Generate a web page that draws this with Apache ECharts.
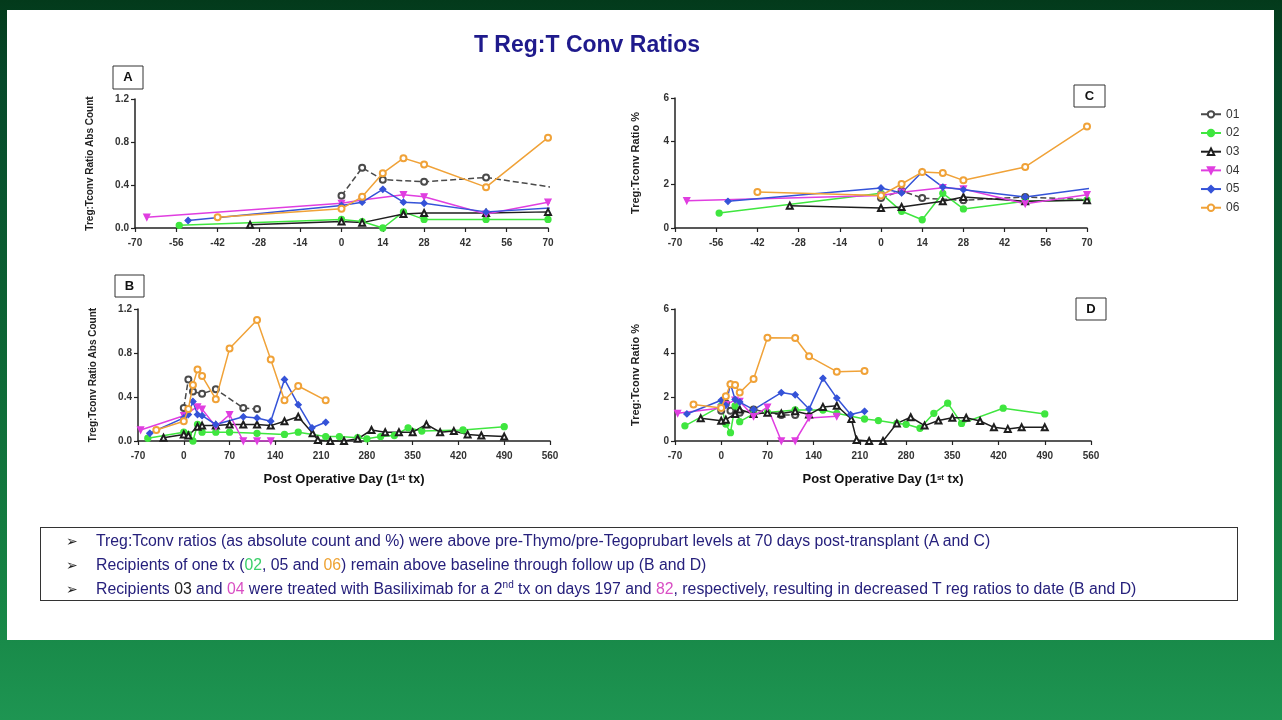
<html>
<head>
  <script src="https://cdn.jsdelivr.net/npm/echarts@6/dist/echarts.min.js"></script>
  <title>T Reg:T Conv Ratios</title>
  <style>
    body { margin: 0; width: 1282px; height: 720px; overflow: hidden; font-family: 'Liberation Sans', Arial, sans-serif;
      background: linear-gradient(to bottom, #033a1b 0px, #06492a 80px, #0c6434 330px, #168545 600px, #1e9552 720px); }
    #sheet { position: absolute; left: 7px; top: 10px; width: 1267px; height: 630px; background: #fff; }
    #main { position: absolute; left: 0; top: 0; width: 1282px; height: 640px; }
    #notes { position: absolute; left: 40px; top: 527px; width: 1198px; height: 74px; border: 1px solid #333;
      font-size: 15.8px; color: #26207c; box-sizing: border-box; padding-top: 1px; }
    #notes div { height: 24px; line-height: 24px; white-space: nowrap; }
    #notes .ar { display: inline-block; width: 30px; margin-left: 25px; font-family: 'DejaVu Sans'; font-size: 14px; color: #222; }
    sup { font-size: 10px; line-height: 0; }
  </style>
</head>
<body>
  <div id="sheet"></div>
  <div id="main"></div>
  <div id="notes">
    <div><span class="ar">&#10146;</span>Treg:Tconv ratios (as absolute count and %) were above pre-Thymo/pre-Tegoprubart levels at 70 days post-transplant (A and C)</div>
    <div><span class="ar">&#10146;</span>Recipients of one tx (<span style="color:#3ccf6a">02</span>, 05 and <span style="color:#eea232">06</span>) remain above baseline through follow up (B and D)</div>
    <div><span class="ar">&#10146;</span>Recipients <span style="color:#222">03</span> and <span style="color:#d94fc4">04</span> were treated with Basiliximab for a 2<sup>nd</sup> tx on days 197 and <span style="color:#d94fc4">82</span>, respectively, resulting in decreased T reg ratios to date (B and D)</div>
  </div>
  <script>
    // post operative day of each sample, with the two ratios read for it
    var days01 = [0, 7, 14, 28, 49, 91, 112];
    var count01 = [0.30, 0.56, 0.45, 0.43, 0.47, 0.30, 0.29];
    var pct01 = [1.38, 1.72, 1.38, 1.28, 1.43, 1.18, 1.18];

    var days02 = [-55, 0, 7, 14, 21, 28, 49, 70, 112, 154, 175, 217, 238, 266, 280, 301, 322, 343, 364, 427, 490];
    var count02 = [0.025, 0.08, 0.06, 0.0, 0.15, 0.08, 0.08, 0.08, 0.07, 0.06, 0.08, 0.04, 0.04, 0.03, 0.02, 0.04, 0.05, 0.12, 0.09, 0.10, 0.13];
    var pct02 = [0.69, 1.6, 0.77, 0.38, 1.6, 0.88, 1.23, 1.3, 1.41, 1.41, 1.26, 1.0, 0.93, 0.8, 0.76, 0.58, 1.26, 1.72, 0.8, 1.49, 1.23];

    var days03 = [-31, 0, 7, 21, 28, 49, 70, 91, 112, 133, 154, 175, 197, 205, 224, 245, 266, 287, 308, 329, 350, 371, 392, 413, 434, 455, 490];
    var count03 = [0.03, 0.06, 0.05, 0.13, 0.14, 0.14, 0.15, 0.15, 0.15, 0.14, 0.18, 0.22, 0.07, 0.01, 0, 0, 0.02, 0.10, 0.08, 0.08, 0.08, 0.15, 0.08, 0.09, 0.06, 0.05, 0.04];
    var pct03 = [1.03, 0.92, 0.97, 1.23, 1.43, 1.23, 1.28, 1.25, 1.35, 1.2, 1.55, 1.6, 1.0, 0.05, 0, 0, 0.8, 1.08, 0.7, 0.93, 1.06, 1.06, 0.91, 0.62, 0.55, 0.62, 0.62];

    var days04 = [-66, 0, 7, 21, 28, 49, 70, 91, 112, 133, 175];
    var count04 = [0.10, 0.23, 0.26, 0.31, 0.29, 0.13, 0.24, 0, 0, 0, null];
    var pct04 = [1.26, 1.5, 1.65, 1.86, 1.8, 1.12, 1.54, 0, 0, 1.05, 1.12];

    var days05 = [-52, 0, 7, 14, 21, 28, 49, 91, 112, 133, 154, 175, 196, 217];
    var count05 = [0.07, 0.21, 0.24, 0.36, 0.24, 0.23, 0.15, 0.22, 0.21, 0.18, 0.56, 0.33, 0.12, 0.17];
    var pct05 = [1.23, 1.85, 1.62, 2.6, 1.89, 1.77, 1.43, 2.2, 2.1, 1.45, 2.85, 1.95, 1.2, 1.35];

    var days06 = [-42, 0, 7, 14, 21, 28, 49, 70, 112, 133, 154, 175, 217];
    var count06 = [0.10, 0.18, 0.29, 0.51, 0.65, 0.59, 0.38, 0.84, 1.10, 0.74, 0.37, 0.50, 0.37];
    var pct06 = [1.66, 1.5, 2.03, 2.58, 2.54, 2.2, 2.82, 4.69, 4.68, 3.85, null, 3.15, 3.18];

    var recipients = ['01', '02', '03', '04', '05', '06'];
    var colors = ['#4a4a4a', '#3fe63f', '#1e1e1e', '#e03ee0', '#3553d8', '#f0a238'];
    var symbols = ['emptyCircle', 'circle', 'emptyTriangle', 'triangle', 'diamond', 'emptyCircle'];
    var allDays = [days01, days02, days03, days04, days05, days06];
    var allCount = [count01, count02, count03, count04, count05, count06];
    var allPct = [pct01, pct02, pct03, pct04, pct05, pct06];

    var shortTicks = [-70, -56, -42, -28, -14, 0, 14, 28, 42, 56, 70];
    var longTicks = [-70, 0, 70, 140, 210, 280, 350, 420, 490, 560];

    var font = "'Liberation Sans', Arial, sans-serif";

    function pairs(d, v) {
      var out = [];
      for (let i = 0; i < d.length; ++i) out.push([d[i], v[i]]);
      return out;
    }

    function xAxis(grid, ticks, name) {
      var ax = {
        type: 'value', gridIndex: grid,
        min: ticks[0], max: ticks[ticks.length - 1], interval: ticks[1] - ticks[0],
        axisLine: { show: true, onZero: false, lineStyle: { color: '#222', width: 1.5 } },
        axisTick: { show: true, length: 4, lineStyle: { color: '#222', width: 1.2 } },
        axisLabel: { color: '#333', fontSize: 10, fontWeight: 'bold', fontFamily: font, margin: 7 },
        splitLine: { show: false }
      };
      if (name) {
        ax.name = '{a|Post Operative Day (1}{s|st}{a| tx)}';
        ax.nameLocation = 'middle';
        ax.nameGap = 30;
        ax.nameTextStyle = {
          rich: {
            a: { fontSize: 13, fontWeight: 'bold', color: '#111', fontFamily: font, lineHeight: 16 },
            s: { fontSize: 8, fontWeight: 'bold', color: '#111', fontFamily: font, verticalAlign: 'top', lineHeight: 12 }
          }
        };
      }
      return ax;
    }

    function yAxis(grid, max, interval, digits, name, gap, size) {
      return {
        type: 'value', gridIndex: grid, min: 0, max: max, interval: interval,
        axisLine: { show: true, onZero: false, lineStyle: { color: '#222', width: 1.5 } },
        axisTick: { show: true, length: 4, lineStyle: { color: '#222', width: 1.2 } },
        axisLabel: { color: '#333', fontSize: 10, fontWeight: 'bold', fontFamily: font, margin: 6,
          formatter: function (v) { return v.toFixed(digits); } },
        splitLine: { show: false },
        name: name, nameLocation: 'middle', nameGap: gap,
        nameTextStyle: { fontSize: size, fontWeight: 'bold', color: '#222', fontFamily: font }
      };
    }

    var seriesList = [];
    // grid 0 = A, 1 = B (counts), 2 = C, 3 = D (percent)
    for (let g = 0; g < 4; ++g) {
      var src = (g < 2) ? allCount : allPct;
      for (let i = 0; i < recipients.length; ++i) {
        seriesList.push({
          name: recipients[i], type: 'line',
          xAxisIndex: g, yAxisIndex: g,
          data: pairs(allDays[i], src[i]),
          connectNulls: true, clip: true,
          symbol: symbols[i], symbolSize: 6, symbolRotate: i == 3 ? 180 : 0,
          color: colors[i],
          lineStyle: { width: 1.5, type: i == 0 ? 'dashed' : 'solid', color: colors[i] },
          itemStyle: { color: colors[i], borderColor: colors[i], borderWidth: 1.3 },
          z: i == 5 ? 3 : 2
        });
      }
    }

    function letterBox(x, y, w, h, t) {
      return [
        { type: 'rect', shape: { x: x, y: y, width: w, height: h }, style: { fill: '#fff', stroke: '#333', lineWidth: 1 } },
        { type: 'text', x: x + w / 2, y: y + h / 2, style: { text: t, fill: '#111', font: 'bold 13px ' + font, align: 'center', verticalAlign: 'middle' } }
      ];
    }

    var myChart = echarts.init(document.getElementById('main'));
    var option = {
      animation: false,
      title: {
        text: 'T Reg:T Conv Ratios', left: 582, top: 27, textAlign: 'center',
        textStyle: { fontSize: 23, fontWeight: 'bold', color: '#1f1a8c', fontFamily: font, lineHeight: 28 }
      },
      legend: {
        orient: 'vertical', left: 1200, top: 104, itemWidth: 20, itemHeight: 8, itemGap: -2, padding: 0,
        data: recipients,
        textStyle: { fontSize: 12, color: '#333', fontFamily: font, lineHeight: 12 }
      },
      grid: [
        { left: 135, top: 99, width: 413, height: 129 },
        { left: 138, top: 309, width: 412, height: 132 },
        { left: 675, top: 98, width: 412, height: 130 },
        { left: 675, top: 309, width: 416, height: 132 }
      ],
      xAxis: [
        xAxis(0, shortTicks, false),
        xAxis(1, longTicks, true),
        xAxis(2, shortTicks, false),
        xAxis(3, longTicks, true)
      ],
      yAxis: [
        yAxis(0, 1.2, 0.4, 1, 'Treg:Tconv Ratio Abs Count', 36, 10),
        yAxis(1, 1.2, 0.4, 1, 'Treg:Tconv Ratio Abs Count', 36, 10),
        yAxis(2, 6, 2, 0, 'Treg:Tconv Ratio %', 30, 11),
        yAxis(3, 6, 2, 0, 'Treg:Tconv Ratio %', 30, 11)
      ],
      graphic: [].concat(
        letterBox(113, 66, 30, 23, 'A'),
        letterBox(115, 275, 29, 22, 'B'),
        letterBox(1074, 85, 31, 22, 'C'),
        letterBox(1076, 298, 30, 22, 'D')
      ),
      series: seriesList
    };
    myChart.setOption(option);
  </script>
</body>
</html>
